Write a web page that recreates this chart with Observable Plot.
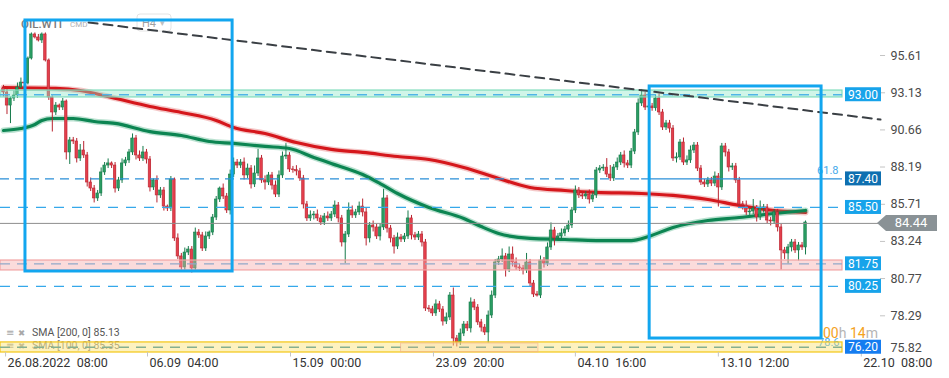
<!DOCTYPE html>
<html><head><meta charset="utf-8">
<script src="https://cdn.jsdelivr.net/npm/d3@7"></script>
<script src="https://cdn.jsdelivr.net/npm/@observablehq/plot@0.6"></script>
<style>
html,body{margin:0;padding:0;background:#fff;}
#chart{width:949px;height:378px;overflow:hidden}
svg{font-family:Roboto,"Noto Sans",sans-serif}
</style></head><body><div id="chart"></div>
<script>
// ---- candle data (H4 candles, index 0..230) ----
const firstOpen = 93.42;
const closes = [
93.15,92.28,92.75,92.95,93.48,93.81,93.75,95.41,97.01,96.81,
96.61,97.01,95.28,92.82,91.82,92.28,92.15,92.55,89.16,89.96,
89.89,88.76,89.29,88.96,87.16,86.76,86.10,86.43,87.83,88.29,
88.43,88.29,86.76,87.30,88.43,88.63,89.16,90.09,88.96,88.76,
89.16,88.69,86.83,87.30,86.30,86.63,85.56,85.43,87.36,83.44,
82.24,81.51,82.50,82.70,81.44,83.83,83.64,82.77,83.57,83.83,
84.83,86.03,86.76,86.23,85.30,87.69,88.49,88.29,88.49,87.63,
88.09,87.03,87.76,88.76,87.30,87.16,87.63,86.96,86.36,87.63,
88.89,88.95,88.03,87.98,87.90,87.43,85.70,84.77,84.97,85.03,
84.77,84.50,84.90,84.77,85.03,85.63,84.77,83.17,83.70,85.30,
84.97,85.17,85.56,85.17,83.44,84.30,84.17,83.57,84.17,86.10,
84.10,83.44,82.90,83.50,83.37,83.57,84.77,83.64,83.50,83.70,
83.17,78.78,78.72,78.45,79.05,78.71,77.91,78.18,79.64,76.78,
76.52,77.11,77.71,77.45,79.18,78.84,77.85,77.51,77.18,78.31,
79.64,81.84,82.04,82.24,81.37,82.37,81.84,81.51,81.44,81.31,
81.84,80.44,79.71,79.64,81.97,81.77,82.84,83.97,83.44,83.57,
83.77,84.03,84.30,85.30,86.63,86.30,86.23,86.36,86.03,86.30,
87.96,88.09,88.15,87.69,87.43,88.16,88.49,88.96,88.43,88.29,
89.22,90.49,92.42,92.95,92.15,92.22,92.10,92.75,91.82,90.82,
91.09,90.75,88.76,88.83,89.82,88.49,88.63,89.29,89.62,88.09,
87.16,87.03,87.30,87.09,87.56,86.83,89.56,89.16,88.16,88.23,
87.30,85.70,85.63,85.17,85.23,85.43,84.83,85.43,85.50,84.63,
84.57,85.17,84.17,82.64,82.44,82.84,83.17,82.64,82.97,82.84,
84.50];
const wickHi = [
0.2,0.2,0.1,0.3,0.3,0.3,0.2,0.1,0.1,0.1,
0.2,0.1,0.1,0.1,0.1,0.2,0.1,0.2,0.1,0.2,
0.2,0.2,0.4,0.6,0.2,0.3,0.2,0.2,0.3,0.2,
0.3,0.1,0.2,0.2,0.3,0.2,0.2,0.3,0.2,0.3,
0.4,0.2,0.2,0.1,0.3,0.2,0.2,0.1,0.2,0.1,
0.3,0.2,0.3,0.2,0.2,0.3,0.2,0.2,0.3,0.1,
0.2,0.2,0.1,0.3,0.2,0.3,0.3,0.2,0.2,0.3,
0.3,0.2,0.5,0.6,0.2,0.3,0.2,0.2,0.3,0.3,
0.3,0.8,0.2,0.2,0.3,0.2,0.2,0.2,0.3,0.2,
0.3,0.2,0.2,0.3,0.2,0.3,0.2,0.2,0.2,0.5,
0.3,0.2,0.3,0.5,0.3,0.2,0.3,0.2,0.2,0.6,
0.2,0.2,0.2,0.3,0.2,0.2,0.5,0.2,0.2,0.2,
0.2,0.2,0.2,0.2,0.3,0.2,0.2,0.3,0.2,0.5,
0.2,0.3,0.2,0.2,0.3,0.2,0.2,0.2,0.2,0.3,
0.3,0.2,0.2,0.5,0.2,0.5,0.5,0.3,0.2,0.2,
0.6,0.2,0.2,0.2,0.3,0.2,0.3,0.5,0.2,0.2,
0.3,0.2,0.3,0.2,0.3,0.2,0.2,0.2,0.3,0.2,
0.2,0.2,0.2,0.6,0.6,0.2,0.3,0.2,0.3,0.2,
0.2,0.2,0.3,0.4,0.2,0.3,0.2,0.2,0.3,0.2,
0.2,0.2,0.2,0.3,0.2,0.3,0.3,0.3,0.2,0.2,
0.2,0.2,0.2,0.2,0.3,0.2,0.2,0.2,0.2,0.2,
0.2,0.2,0.2,0.3,0.2,0.6,0.2,0.5,0.2,0.2,
0.2,0.2,0.2,0.2,0.2,0.2,0.2,0.2,0.2,0.2,
0.1];
const wickLo = [
0.3,0.6,1.2,0.2,0.2,0.1,0.2,0.1,0.1,0.1,
0.1,0.2,0.1,0.2,1.3,0.2,0.2,0.2,0.5,0.8,
0.2,0.3,0.2,0.2,0.3,0.2,0.3,0.2,0.2,0.2,
0.2,0.2,0.3,0.2,0.2,0.2,0.2,0.2,0.3,0.2,
0.2,0.3,0.3,0.2,0.5,0.2,0.3,0.2,0.2,0.2,
0.2,0.3,0.2,0.2,0.3,0.2,0.2,0.2,0.2,0.2,
0.2,0.2,0.2,0.2,0.2,0.3,0.2,0.2,0.2,0.3,
0.2,0.3,0.2,0.2,0.2,0.5,0.2,0.3,0.2,0.2,
0.2,0.2,0.2,0.2,0.3,0.2,0.3,0.2,0.2,0.3,
0.2,0.2,0.2,0.2,0.2,0.2,0.3,0.3,1.4,0.2,
0.2,0.2,0.2,0.3,0.5,0.3,0.3,0.2,0.3,0.2,
0.3,0.3,0.5,0.2,0.2,0.2,0.2,0.3,0.2,0.2,
0.3,0.2,0.2,0.2,0.2,0.2,0.3,0.2,0.2,0.5,
0.3,0.2,0.2,0.2,0.3,0.2,0.2,0.3,0.2,0.7,
0.2,0.2,0.2,0.2,0.5,0.2,0.3,0.2,0.2,0.3,
0.2,0.2,0.2,0.1,0.2,0.3,0.2,0.2,0.5,0.2,
0.2,0.2,0.2,0.2,0.2,0.2,0.2,0.2,0.3,0.2,
0.2,0.2,0.2,0.2,0.2,0.2,0.2,0.2,0.3,0.2,
0.2,0.2,0.2,0.2,0.2,0.3,0.2,0.2,0.2,0.2,
0.2,0.3,0.2,0.3,0.2,0.2,0.2,0.2,0.2,0.2,
0.2,0.2,0.2,0.2,0.2,1.3,0.2,0.3,0.3,0.2,
0.2,0.2,0.3,0.2,0.2,0.2,0.3,0.2,0.3,0.2,
0.3,0.2,0.3,1.3,0.4,0.7,0.3,0.2,0.7,0.2,
0.5];

// ---- moving averages (sampled at candle indices) ----
const sma200Idx = [0,15,22,31,42,51,61,66,75,84,94,103,113,122,132,142,151,161,170,183,192,202,211,221,230];
const sma200Val = [93.48,93.42,93.28,92.82,92.22,91.82,91.29,90.82,90.42,89.82,89.36,89.16,88.89,88.69,88.16,87.43,86.83,86.63,86.50,86.43,86.30,86.03,85.63,85.30,85.17];
const sma100Idx = [0,5,9,11,14,20,26,32,42,51,59,66,75,82,89,94,103,108,113,122,132,137,142,151,161,170,180,185,192,202,211,221,230];
const sma100Val = [90.62,90.75,91.02,91.29,91.42,91.42,91.22,91.09,90.55,90.29,89.89,89.76,89.56,89.42,88.83,88.43,87.69,87.09,86.43,85.50,84.77,84.23,83.77,83.44,83.37,83.30,83.30,83.57,84.17,84.63,84.83,85.10,85.30];

// ---- axes ----
const xTickIdx = [0.6, 41.3, 82.3, 123.3, 164, 205, 246];
const xTickLabels = ["26.08.2022\u200208:00","06.09\u200204:00","15.09\u200200:00","23.09\u200220:00","04.10\u200216:00","13.10\u200212:00","22.10\u200208:00"];
const yTicks = [75.82,78.29,80.77,83.24,85.71,88.19,90.66,93.13,95.61];

// ---- levels / zones / annotations ----
const zoneLevels = [93.00, 81.75, 76.20];
const zoneLo = [92.82, 81.31, 75.85];
const zoneHi = [93.28, 81.97, 76.52];
const dashLevels = [85.50, 80.25];
const fiboLevel = 87.40;
const labelLevels = [93.00, 87.40, 85.50, 81.75, 80.25, 76.20];
const lastPrice = 84.44;
const boxX1 = [6.3, 185.3], boxX2 = [65.7, 234.6];
const boxTop = [97.94, 93.55], boxBottom = [81.24, 76.78];
const trendIdx = [24.4, 251.5], trendVal = [97.81, 91.35];
const oddRectIdx = [114, 153.4];
const legendRows = ["SMA [200, 0] 85.13", "SMA [100, 0] 85.35"];

// ---- build tables ----
const candles = closes.map((c, i) => {
  const o = i === 0 ? firstOpen : closes[i - 1];
  return {i, o, c, h: Math.max(o, c) + (wickHi[i] ?? 0), l: Math.min(o, c) - (wickLo[i] ?? 0), up: c >= o};
});
const sma200 = sma200Idx.map((i, k) => ({i, v: sma200Val[k]}));
const sma100 = sma100Idx.map((i, k) => ({i, v: sma100Val[k]}));
const zones = zoneLevels.map((v, k) => ({v, lo: zoneLo[k], hi: zoneHi[k], k}));
const boxes = boxX1.map((x1, k) => ({x1, x2: boxX2[k], y1: boxTop[k], y2: boxBottom[k]}));
const trend = trendIdx.map((i, k) => ({i, v: trendVal[k]}));
const xTicks = xTickIdx.map((d, k) => ({d, label: xTickLabels[k]}));

const xDomain = [-0.86, 251.5];
const yDomain = [75.85, 99.27];
const zoneEnd = 240.6;
const zoneFill = ["#8fe6c8", "#f5a9a9", "#fbe06a"];
const zoneStroke = ["#7fdcbc", "#f1a3a3", "#f3c614"];
const zoneDash = ["#4fb5e6", "#93a9c9", "#86b08f"];
const upStroke = "#167a4b", dnStroke = "#b8232f";

const plot = Plot.plot({
  width: 949, height: 378,
  marginLeft: 0, marginRight: 69, marginTop: 0, marginBottom: 26,
  x: {domain: xDomain, axis: null},
  y: {domain: yDomain, axis: null},
  color: {type: "identity"},
  style: {fontFamily: "Roboto, 'Noto Sans', sans-serif", background: "white", overflow: "visible"},
  marks: [
    Plot.text([fiboLevel], {x: 233.3, y: d => d, text: () => "61.8", dy: -8, textAnchor: "start", fill: "#45a9ea", fontSize: 11}),
    Plot.text([76.20], {x: 233.6, y: d => d, text: () => "78.6", dy: -5, textAnchor: "start", fill: "#45a9ea", fontSize: 11}),
    Plot.line(sma200, {x: "i", y: "v", stroke: "#e06060", strokeOpacity: 0.35, strokeWidth: 6, curve: "monotone-x"}),
    Plot.line(sma200, {x: "i", y: "v", stroke: "#d5171c", strokeWidth: 3.2, curve: "monotone-x"}),
    Plot.line(sma100, {x: "i", y: "v", stroke: "#3aa878", strokeOpacity: 0.35, strokeWidth: 6, curve: "monotone-x"}),
    Plot.line(sma100, {x: "i", y: "v", stroke: "#0c8552", strokeWidth: 3.2, curve: "monotone-x"}),
    Plot.ruleX(candles, {x: "i", y1: "l", y2: "h", stroke: d => d.up ? upStroke : dnStroke, strokeWidth: 1}),
    Plot.rect(candles, {x1: d => d.i - 0.36, x2: d => d.i + 0.36, y1: "o", y2: "c",
      fill: d => d.up ? "#2a9d62" : "#e43f4c", stroke: d => d.up ? upStroke : dnStroke, strokeWidth: 0.6}),
    Plot.rect(zones, {x1: xDomain[0], x2: zoneEnd, y1: "lo", y2: "hi", fill: d => zoneFill[d.k], fillOpacity: 0.42,
      stroke: d => zoneStroke[d.k], strokeWidth: 1.2}),
    Plot.ruleY(zones, {y: "v", x1: xDomain[0], x2: zoneEnd, stroke: d => zoneDash[d.k], strokeWidth: 1.3, strokeDasharray: "10,7"}),
    Plot.ruleY(dashLevels, {x1: xDomain[0], x2: zoneEnd, stroke: "#35a8ea", strokeWidth: 1.3, strokeDasharray: "10,8"}),
    Plot.ruleY([fiboLevel], {x1: xDomain[0], x2: 183, stroke: "#2a8fd8", strokeWidth: 1.2, strokeDasharray: "9,6"}),
    Plot.ruleY([fiboLevel], {x1: 183, x2: zoneEnd, stroke: "#2a8fd8", strokeWidth: 1.2}),
    Plot.ruleY([lastPrice], {x1: xDomain[0], x2: xDomain[1], stroke: "#8d8d8d", strokeWidth: 1}),
    Plot.line(trend, {x: "i", y: "v", stroke: "#3a3f44", strokeWidth: 2, strokeDasharray: "9,6"}),
    Plot.rect([0], {x1: oddRectIdx[0], x2: oddRectIdx[1], y1: 75.87, y2: 76.45, fill: "#f7b58e", fillOpacity: 0.15, stroke: "#f3b090", strokeOpacity: 0.6, strokeWidth: 1}),
    Plot.rect(boxes, {x1: "x1", x2: "x2", y1: "y1", y2: "y2", fill: "none", stroke: "#12a6ef", strokeWidth: 3}),
    // right price axis (ticks + labels drawn through the scales)
    Plot.ruleY(yTicks.slice(1), {x1: xDomain[1], x2: xDomain[1] + 1.45, stroke: "#c4c4c4"}),
    Plot.text(yTicks.slice(1), {x: xDomain[1], y: d => d, dx: 10, textAnchor: "start", text: d => d.toFixed(2), fill: "#4a4a4a", fontSize: 12.5}),
    Plot.text(yTicks.slice(0, 1), {x: xDomain[1], y: d => d, dx: 10, dy: -5, textAnchor: "start", text: d => d.toFixed(2), fill: "#4a4a4a", fontSize: 12.5}),
    // bottom time axis
    Plot.ruleX(xTicks, {x: "d", y1: yDomain[0], y2: yDomain[0] - 0.3, stroke: "#c4c4c4"}),
    Plot.text(xTicks, {x: "d", y: yDomain[0], dx: 2, dy: 10, textAnchor: "start", text: "label", fill: "#333", fontSize: 12.5})
  ]
});
document.getElementById("chart").appendChild(plot);

// ---- overlays positioned with the plot's own scales ----
const svg = d3.select(plot);
const sy = plot.scale("y");
const underG = svg.insert("g", "g").attr("text-anchor", "start");
underG.append("text").attr("x", 21).attr("y", 28).attr("font-size", 11.5).attr("fill", "#7a7a7a").attr("font-weight", 500).text("OIL.WTI");
underG.append("text").attr("x", 70).attr("y", 27).attr("font-size", 8).attr("fill", "#b0b0b0").text("CMD");
underG.append("rect").attr("x", 137).attr("y", 14).attr("width", 34).attr("height", 17).attr("rx", 3).attr("fill", "white").attr("stroke", "#e4e4e4");
underG.append("text").attr("x", 142).attr("y", 27).attr("font-size", 11).attr("fill", "#a0a0a0").text("H4");
underG.append("text").attr("x", 160).attr("y", 26).attr("font-size", 9).attr("fill", "#c0c0c0").text("\u25BE");
legendRows.forEach((t, k) => {
  const y = 336 + k * 13;
  underG.append("text").attr("x", 6).attr("y", y).attr("font-size", 10).attr("fill", "#a8a8a8").attr("font-family", "DejaVu Sans").text("\u2261");
  underG.append("text").attr("x", 18).attr("y", y).attr("font-size", 8.5).attr("fill", "#a8a8a8").attr("font-family", "DejaVu Sans").text("\u2716");
  underG.append("text").attr("x", 32).attr("y", y).attr("font-size", 10.5).attr("fill", k ? "#8a8a8a" : "#555").text(t);
});

const topG = svg.append("g").attr("text-anchor", "start");
const boxColors = ["#17a3ea", "#0e6fb0", "#17a3ea", "#17a3ea", "#17a3ea", "#157cf0"];
labelLevels.forEach((v, k) => {
  const y = sy.apply(v);
  topG.append("rect").attr("x", 845).attr("y", y - 7).attr("width", 36).attr("height", 14).attr("fill", boxColors[k]);
  topG.append("text").attr("x", 863).attr("y", y + 4.3).attr("text-anchor", "middle").attr("font-size", 12).attr("fill", "white").text(v.toFixed(2));
});
{
  const y = sy.apply(lastPrice);
  topG.append("path").attr("d", `M877,${y} L886,${y - 8} L937,${y - 8} L937,${y + 8} L886,${y + 8} Z`).attr("fill", "#8a9296");
  topG.append("text").attr("x", 911).attr("y", y + 4.6).attr("text-anchor", "middle").attr("font-size", 13).attr("fill", "white").text(lastPrice.toFixed(2));
}
{
  const y = sy.apply(77.11);
  const t = topG.append("text").attr("x", 823).attr("y", y + 5).attr("font-size", 14);
  t.append("tspan").attr("fill", "#f4a21e").text("00");
  t.append("tspan").attr("fill", "#b5b5b5").text("h ");
  t.append("tspan").attr("fill", "#f4a21e").text("14");
  t.append("tspan").attr("fill", "#b5b5b5").text("m");
}
</script></body></html>
